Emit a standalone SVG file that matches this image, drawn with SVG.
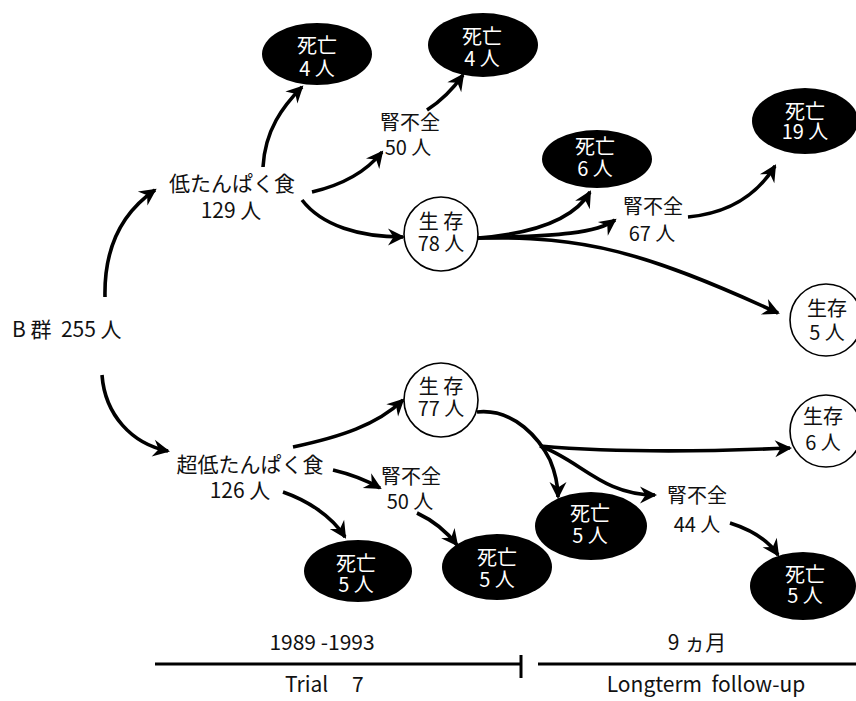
<svg xmlns="http://www.w3.org/2000/svg" width="856" height="701" viewBox="0 0 856 701">
<style>
text{font-family:"Noto Sans CJK JP","Noto Sans",sans-serif;font-size:20px;fill:#111;text-anchor:middle}
.lbl{font-size:21px}
.pre{white-space:pre}
.d ellipse{fill:#000}
.d text{fill:#fff}
.s circle{fill:#fff;stroke:#000;stroke-width:1.6}
.c path{fill:none;stroke:#000;stroke-width:3.6;marker-end:url(#ah)}
.tl line{stroke:#000;stroke-width:3}
.tl text{font-size:21px}
</style>
<defs>
<marker id="ah" markerUnits="userSpaceOnUse" markerWidth="22" markerHeight="18" viewBox="-19 -9 22 18" refX="-2" refY="0" orient="auto">
<path d="M0,0 L-17,-8.5 L-11.5,0 L-17,8.5 Z" fill="#000"/>
</marker>
</defs>
<rect width="856" height="701" fill="#fff"/>

<g id="connectors" class="c">
<path d="M105,297 C104,250 120,214 155,190"/>
<path d="M102,375 C105,415 132,444 168,451"/>
<path d="M263,167 C265,130 283,106 302,87"/>
<path d="M312,192 C342,185 366,172 382,152"/>
<path d="M427,110 C441,101 453,89 463,75"/>
<path d="M302,200 C322,226 360,237 403,237"/>
<path d="M478,238 C540,233 576,216 590,192"/>
<path d="M478,238 C560,236 597,233 615,220"/>
<path d="M478,238 C585,236 645,252 778,313"/>
<path d="M688,217 C730,213 757,195 775,166"/>
<path d="M293,447 C340,437 377,425 403,400"/>
<path d="M333,470 C350,474 366,480 380,488"/>
<path d="M283,492 C306,500 331,515 345,537"/>
<path d="M417,513 C432,520 447,532 457,545"/>
<path d="M477,412 C515,408 540,440 550,460 C555,472 558,485 558,497"/>
<path d="M540,446 C620,453 700,452 790,448"/>
<path d="M540,446 C580,460 602,495 655,495"/>
<path d="M730,523 C752,530 768,540 778,555"/>
</g>

<g id="b-group"><text class="lbl pre" x="12" y="337" style="text-anchor:start">B 群  255 人</text></g>

<g id="low-protein"><text class="lbl"><tspan x="232" y="191">低たんぱく食</tspan><tspan x="231" y="218">129 人</tspan></text></g>
<g id="very-low-protein"><text class="lbl"><tspan x="250" y="472">超低たんぱく食</tspan><tspan x="240" y="498">126 人</tspan></text></g>

<g id="death-4a" class="d"><ellipse cx="317" cy="54" rx="55" ry="31"/><text><tspan x="317" y="53">死亡</tspan><tspan x="317" y="76">4 人</tspan></text></g>
<g id="death-4b" class="d"><ellipse cx="483" cy="45" rx="55" ry="32"/><text><tspan x="482" y="44">死亡</tspan><tspan x="482" y="66">4 人</tspan></text></g>
<g id="renal-50a"><text><tspan x="410" y="130">腎不全</tspan><tspan x="408" y="155">50 人</tspan></text></g>
<g id="survive-78" class="s"><circle cx="441" cy="234" r="37"/><text><tspan x="441" y="229">生 存</tspan><tspan x="441" y="251">78 人</tspan></text></g>
<g id="death-6" class="d"><ellipse cx="597" cy="159" rx="55" ry="29"/><text><tspan x="595" y="154">死亡</tspan><tspan x="595" y="176">6 人</tspan></text></g>
<g id="renal-67"><text><tspan x="653" y="214">腎不全</tspan><tspan x="652" y="241">67 人</tspan></text></g>
<g id="death-19" class="d"><ellipse cx="805" cy="121" rx="53" ry="33"/><text><tspan x="805" y="119">死亡</tspan><tspan x="805" y="139">19 人</tspan></text></g>
<g id="survive-5" class="s"><circle cx="826" cy="320" r="36"/><text><tspan x="827" y="316">生存</tspan><tspan x="827" y="340">5 人</tspan></text></g>

<g id="survive-77" class="s"><circle cx="441" cy="400" r="37"/><text><tspan x="441" y="394">生 存</tspan><tspan x="441" y="416">77 人</tspan></text></g>
<g id="survive-6" class="s"><circle cx="826" cy="431" r="36"/><text><tspan x="823" y="424">生存</tspan><tspan x="823" y="450">6 人</tspan></text></g>
<g id="renal-50b"><text><tspan x="411" y="484">腎不全</tspan><tspan x="410" y="509">50 人</tspan></text></g>
<g id="renal-44"><text><tspan x="697" y="503">腎不全</tspan><tspan x="697" y="532">44 人</tspan></text></g>
<g id="death-5a" class="d"><ellipse cx="358" cy="571" rx="54" ry="31"/><text><tspan x="356" y="571">死亡</tspan><tspan x="356" y="592">5 人</tspan></text></g>
<g id="death-5b" class="d"><ellipse cx="497" cy="567" rx="55" ry="33"/><text><tspan x="497" y="565">死亡</tspan><tspan x="497" y="587">5 人</tspan></text></g>
<g id="death-5c" class="d"><ellipse cx="591" cy="526" rx="56" ry="34"/><text><tspan x="590" y="521">死亡</tspan><tspan x="590" y="543">5 人</tspan></text></g>
<g id="death-5d" class="d"><ellipse cx="803" cy="586" rx="53" ry="34"/><text><tspan x="805" y="582">死亡</tspan><tspan x="805" y="603">5 人</tspan></text></g>

<g id="timeline" class="tl">
<line x1="155" y1="664" x2="521" y2="664"/>
<line x1="521" y1="655" x2="521" y2="678"/>
<line x1="538" y1="664" x2="856" y2="664"/>
<text class="pre" x="322" y="650">1989 -1993</text>
<text x="285" y="692" style="text-anchor:start">Trial<tspan x="352">7</tspan></text>
<text class="pre" x="697" y="650">9 ヵ月</text>
<text class="pre" x="706" y="692">Longterm  follow-up</text>
</g>
</svg>
